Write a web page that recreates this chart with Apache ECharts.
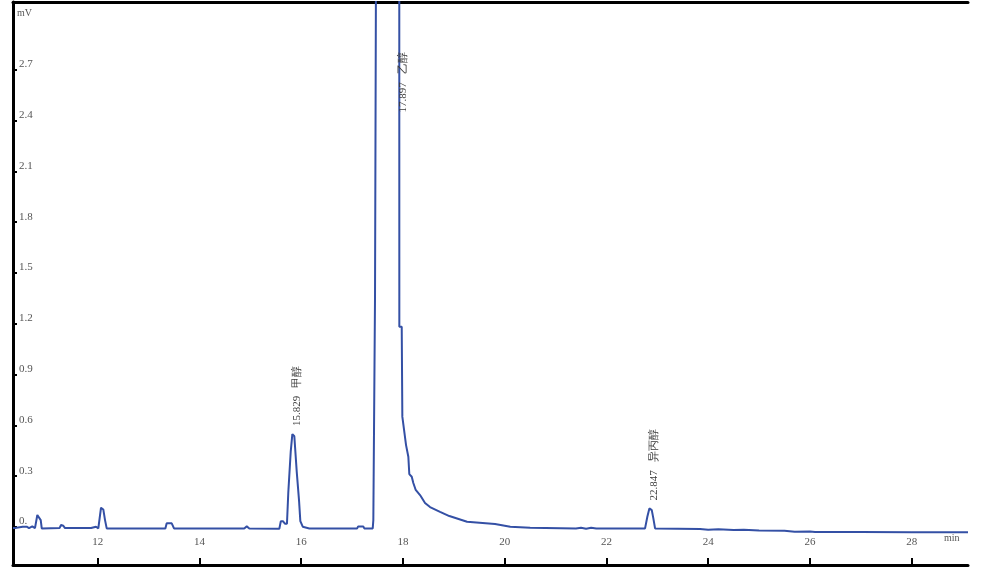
<!DOCTYPE html>
<html>
<head>
<meta charset="utf-8">
<script src="https://cdn.jsdelivr.net/npm/echarts@6/dist/echarts.min.js"></script>
<style>html,body{margin:0;padding:0;background:#fff}#c{width:985px;height:570px}</style>
</head>
<body>
<div id="c"></div>
<script>
// retention time (min)
const timeMin = [10.335,10.375,10.526,10.604,10.65,10.714,10.767,10.813,10.846,10.88,10.90,11.25,11.279,11.324,11.357,11.87,11.894,11.967,12.012,12.065,12.11,12.144,12.177,13.33,13.356,13.455,13.5,14.88,14.93,14.98,15.57,15.60,15.64,15.68,15.72,15.747,15.794,15.826,15.865,15.912,15.957,15.983,16.03,16.16,17.10,17.12,17.22,17.24,17.406,17.418,17.451,17.485,17.487,17.70,17.927,17.929,17.976,17.988,18.021,18.061,18.106,18.125,18.173,18.204,18.251,18.336,18.434,18.532,18.729,18.912,19.26,19.81,20.11,20.5,21.4,21.5,21.6,21.7,21.8,22.759,22.804,22.844,22.891,22.922,22.956,23.84,24.0,24.2,24.5,24.7,25.0,25.5,25.7,26.0,26.1,27.0,28.0,29.107];
// detector signal (mV)
const signalMv = [-0.006,-0.006,0.002,0.002,-0.006,0.004,-0.006,0.071,0.080,0.041,-0.008,-0.006,0.012,0.008,-0.006,-0.006,0.002,0.002,-0.008,0.114,0.104,0.041,-0.008,-0.008,0.022,0.022,-0.008,-0.008,0.004,-0.008,-0.01,0.035,0.035,0.02,0.02,0.208,0.445,0.549,0.536,0.327,0.159,0.035,0.002,-0.008,-0.008,0.004,0.004,-0.008,-0.008,0.041,1.36,1.36,5.0,8.5,5.0,1.183,1.183,0.652,0.652,0.484,0.415,0.313,0.297,0.260,0.219,0.189,0.142,0.118,0.090,0.065,0.031,0.018,0.002,-0.004,-0.008,-0.004,-0.01,-0.004,-0.008,-0.008,0.061,0.11,0.10,0.051,-0.008,-0.012,-0.016,-0.013,-0.018,-0.016,-0.02,-0.022,-0.027,-0.026,-0.029,-0.029,-0.030,-0.031];
// peak annotations
const peakTimes = [15.829, 17.897, 22.847];
const peakLabelAt = [0.549, 2.40, 0.11];
const peakNames = ['甲醇', '乙醇', '异丙醇'];
// axis ticks
const xTicks = [12,14,16,18,20,22,24,26,28];
const yTicks = [0,0.3,0.6,0.9,1.2,1.5,1.8,2.1,2.4,2.7];

const chart = echarts.init(document.getElementById('c'), null, {renderer:'canvas'});
const lineColor = '#3450a5';
const txt = {fontFamily:'Liberation Serif', fontSize:11, color:'#555'};

chart.setOption({
  animation:false,
  backgroundColor:'#fff',
  grid:{left:13, right:17, top:2, bottom:5, show:false},
  xAxis:[{
    type:'value', min:10.335, max:29.107, position:'bottom',
    axisLine:{show:true, onZero:false, lineStyle:{color:'#000', width:3}},
    axisTick:{show:true, inside:true, length:7, customValues:xTicks, lineStyle:{color:'#000', width:2}},
    axisLabel:{show:true, inside:true, margin:17, customValues:xTicks, formatter:v=>String(v), ...txt, verticalAlign:'bottom'},
    splitLine:{show:false}
  },{
    type:'value', min:10.335, max:29.107, position:'top',
    axisLine:{show:true, onZero:false, lineStyle:{color:'#000', width:3}},
    axisTick:{show:false}, axisLabel:{show:false}, splitLine:{show:false}
  }],
  yAxis:{
    type:'value', min:-0.224, max:3.10,
    axisLine:{show:true, onZero:false, lineStyle:{color:'#000', width:3}},
    axisTick:{show:true, inside:true, length:4, customValues:yTicks, lineStyle:{color:'#000', width:2}},
    axisLabel:{show:true, inside:true, margin:6, customValues:yTicks, ...txt, align:'left', verticalAlign:'bottom',
      formatter:v=> v===0 ? '0.' : v.toFixed(1)},
    splitLine:{show:false}
  },
  graphic:[
    {type:'text', left:17, top:8, style:{text:'mV', font:'10px "Liberation Serif"', fill:'#555'}},
    {type:'text', left:944, top:533, style:{text:'min', font:'10px "Liberation Serif"', fill:'#555'}}
  ],
  series:[{
    type:'line',
    data: timeMin.map((t,i)=>[t, signalMv[i]]),
    showSymbol:false, symbol:'none', clip:true,
    lineStyle:{color:lineColor, width:2},
    markPoint:{
      symbol:'circle', symbolSize:0, silent:true,
      label:{show:true, position:'top', distance:8, rotate:90, align:'left', verticalAlign:'middle',
        offset:[0,5], ...txt, color:'#3a3a3a',
        formatter:p=>p.name},
      data: peakTimes.map((t,i)=>({name: t.toFixed(3)+'   '+peakNames[i], coord:[t, peakLabelAt[i]]}))
    }
  }]
});
</script>
</body>
</html>
